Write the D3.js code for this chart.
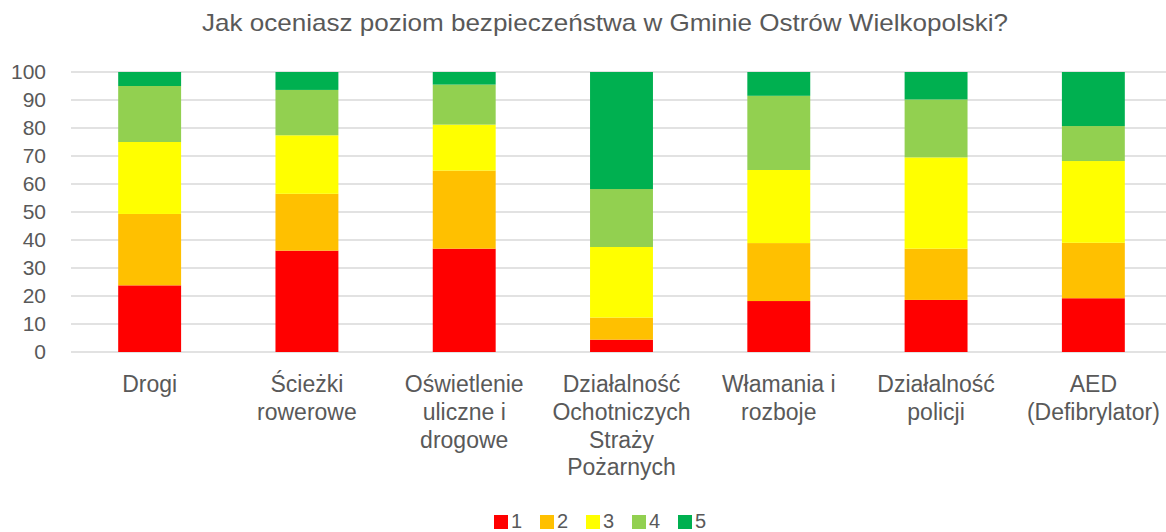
<!DOCTYPE html>
<html><head><meta charset="utf-8">
<script src="https://cdn.jsdelivr.net/npm/d3@7"></script>
<style>body{margin:0;background:#fff}svg{display:block}text{font-family:"Liberation Sans",Arial,sans-serif;fill:#595959}</style>
</head><body><svg id="c" width="1166" height="532"></svg>
<script>
const categories = [["Drogi"],["Ścieżki","rowerowe"],["Oświetlenie","uliczne i","drogowe"],["Działalność","Ochotniczych","Straży","Pożarnych"],["Włamania i","rozboje"],["Działalność","policji"],["AED","(Defibrylator)"]];
const seriesNames = ["1","2","3","4","5"];
const colors = ["#ff0000","#ffc000","#ffff00","#92d050","#00b050"];
const s1 = [23.8, 36.2, 36.9, 4.4, 18.2, 18.6, 19.2];
const s2 = [25.5, 20.3, 27.9, 7.9, 20.7, 18.3, 19.8];
const s3 = [25.7, 20.9, 16.4, 25.2, 26.1, 32.6, 29.2];
const s4 = [20.0, 16.2, 14.3, 20.7, 26.5, 20.7, 12.5];
const s5 = [5.0, 6.4, 4.5, 41.8, 8.5, 9.8, 19.3];
const yTicks = [0,10,20,30,40,50,60,70,80,90,100];
const title = "Jak oceniasz poziom bezpieczeństwa w Gminie Ostrów Wielkopolski?";

const series = [s1,s2,s3,s4,s5];
const keys = categories.map((c,i)=>i);
const rows = keys.map(i=>{const o={i}; seriesNames.forEach((n,j)=>o[n]=series[j][i]); return o;});
const stack = d3.stack().keys(seriesNames)(rows);

const svg = d3.select("#c");
const x = d3.scaleBand().domain(keys).range([71,1172]).paddingInner(0.6).paddingOuter(0.3);
const y = d3.scaleLinear().domain([0,100]).range([352,72]);

svg.append("text").attr("x",605).attr("y",31).attr("text-anchor","middle").style("font-size","24px")
  .attr("textLength",806).attr("lengthAdjust","spacingAndGlyphs").text(title);

const grid = svg.append("g");
grid.selectAll("line").data(yTicks).join("line")
  .attr("x1",71).attr("x2",1166).attr("y1",d=>y(d)).attr("y2",d=>y(d))
  .attr("stroke","#d9d9d9").attr("stroke-width",1.5);

const yAxis = svg.append("g").attr("transform","translate(46,0)")
  .call(d3.axisLeft(y).tickValues(yTicks).tickSize(0).tickPadding(0));
yAxis.select(".domain").remove();
yAxis.selectAll("text").style("font-size","21px").style("font-family","'Liberation Sans',Arial,sans-serif").attr("fill","#595959");

svg.append("g").selectAll("g").data(stack).join("g").attr("fill",(d,i)=>colors[i])
  .selectAll("rect").data(d=>d).join("rect")
  .attr("x",d=>x(d.data.i)).attr("width",x.bandwidth())
  .attr("y",d=>y(d[1])).attr("height",d=>y(d[0])-y(d[1]));

const xl = svg.append("g");
categories.forEach((lines,i)=>{
  const t = xl.append("text").attr("text-anchor","middle").style("font-size","23px")
    .attr("x", x(i)+x.bandwidth()/2).attr("y",392);
  lines.forEach((l,k)=>t.append("tspan").attr("x",x(i)+x.bandwidth()/2).attr("dy",k?27.8:0).text(l));
});

const leg = svg.append("g");
seriesNames.forEach((n,j)=>{
  const lx = 494 + j*46;
  leg.append("rect").attr("x",lx).attr("y",515).attr("width",14).attr("height",14).attr("fill",colors[j]);
  leg.append("text").attr("x",lx+17).attr("y",528).style("font-size","20px").text(n);
});
</script></body></html>
